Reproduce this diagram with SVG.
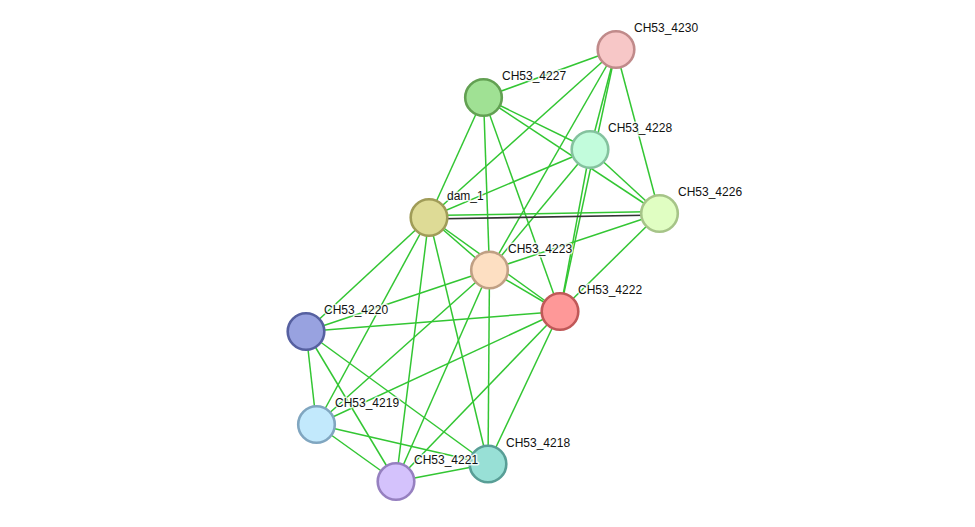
<svg xmlns="http://www.w3.org/2000/svg" width="975" height="527" viewBox="0 0 975 527">
<style>
.e{stroke:#33c633;stroke-width:1.5;fill:none}
.k{stroke:#333;stroke-width:1.6;fill:none}
.n{stroke-width:2.6}
.t{font-family:"Liberation Sans",Arial,sans-serif;font-size:12px;fill:#111;stroke:#fff;stroke-width:3;stroke-opacity:0.8;paint-order:stroke;stroke-linejoin:round}
</style>
<rect width="975" height="527" fill="#fff"/>
<g id="edges">
<line class="e" x1="616" y1="49.5" x2="483.5" y2="97.5"/>
<line class="e" x1="616" y1="49.5" x2="429" y2="217.5"/>
<line class="e" x1="616" y1="49.5" x2="489.5" y2="270"/>
<line class="e" x1="616" y1="49.5" x2="590" y2="149.5"/>
<line class="e" x1="616" y1="49.5" x2="560" y2="311.5"/>
<line class="e" x1="616" y1="49.5" x2="659.5" y2="213.5"/>
<line class="e" x1="483.5" y1="97.5" x2="429" y2="217.5"/>
<line class="e" x1="483.5" y1="97.5" x2="489.5" y2="270"/>
<line class="e" x1="483.5" y1="97.5" x2="560" y2="311.5"/>
<line class="e" x1="483.5" y1="97.5" x2="590" y2="149.5"/>
<line class="e" x1="483.5" y1="97.5" x2="659.5" y2="213.5"/>
<line class="e" x1="590" y1="149.5" x2="429" y2="217.5"/>
<line class="e" x1="590" y1="149.5" x2="489.5" y2="270"/>
<line class="e" x1="590" y1="149.5" x2="560" y2="311.5"/>
<line class="e" x1="590" y1="149.5" x2="659.5" y2="213.5"/>
<line class="e" x1="429" y1="215.6" x2="659.5" y2="211.6"/>
<line class="k" x1="429" y1="219" x2="659.5" y2="215"/>
<line class="e" x1="429" y1="217.5" x2="489.5" y2="270"/>
<line class="e" x1="429" y1="217.5" x2="560" y2="311.5"/>
<line class="e" x1="429" y1="217.5" x2="306" y2="331.5"/>
<line class="e" x1="429" y1="217.5" x2="316.5" y2="424.5"/>
<line class="e" x1="429" y1="217.5" x2="396" y2="481.5"/>
<line class="e" x1="429" y1="217.5" x2="488" y2="464"/>
<line class="e" x1="489.5" y1="270" x2="659.5" y2="213.5"/>
<line class="e" x1="489.5" y1="270" x2="560" y2="311.5"/>
<line class="e" x1="489.5" y1="270" x2="306" y2="331.5"/>
<line class="e" x1="489.5" y1="270" x2="316.5" y2="424.5"/>
<line class="e" x1="489.5" y1="270" x2="396" y2="481.5"/>
<line class="e" x1="489.5" y1="270" x2="488" y2="464"/>
<line class="e" x1="659.5" y1="213.5" x2="560" y2="311.5"/>
<line class="e" x1="560" y1="311.5" x2="306" y2="331.5"/>
<line class="e" x1="560" y1="311.5" x2="316.5" y2="424.5"/>
<line class="e" x1="560" y1="311.5" x2="396" y2="481.5"/>
<line class="e" x1="560" y1="311.5" x2="488" y2="464"/>
<line class="e" x1="306" y1="331.5" x2="316.5" y2="424.5"/>
<line class="e" x1="306" y1="331.5" x2="396" y2="481.5"/>
<line class="e" x1="306" y1="331.5" x2="488" y2="464"/>
<line class="e" x1="316.5" y1="424.5" x2="396" y2="481.5"/>
<line class="e" x1="316.5" y1="424.5" x2="488" y2="464"/>
<line class="e" x1="396" y1="481.5" x2="488" y2="464"/>
</g>
<g id="CH53_4230"><circle class="n" cx="616" cy="49.5" r="18.3" fill="#f7c7c7" stroke="#c08a8a"/><text class="t" x="634" y="32">CH53_4230</text></g>
<g id="CH53_4227"><circle class="n" cx="483.5" cy="97.5" r="18.3" fill="#a0e194" stroke="#62a052"/><text class="t" x="502" y="80">CH53_4227</text></g>
<g id="CH53_4228"><circle class="n" cx="590" cy="149.5" r="18.3" fill="#c2fcdc" stroke="#84c29e"/><text class="t" x="608" y="132">CH53_4228</text></g>
<g id="CH53_4226"><circle class="n" cx="659.5" cy="213.5" r="18.3" fill="#e0fec2" stroke="#a6c488"/><text class="t" x="678" y="196">CH53_4226</text></g>
<g id="dam_1"><circle class="n" cx="429" cy="217.5" r="18.3" fill="#dedb96" stroke="#a09c58"/><text class="t" x="447" y="200">dam_1</text></g>
<g id="CH53_4223"><circle class="n" cx="489.5" cy="270" r="18.3" fill="#fddfc2" stroke="#c0a084"/><text class="t" x="508" y="253">CH53_4223</text></g>
<g id="CH53_4222"><circle class="n" cx="560" cy="311.5" r="18.3" fill="#fe9898" stroke="#c05858"/><text class="t" x="578" y="294">CH53_4222</text></g>
<g id="CH53_4220"><circle class="n" cx="306" cy="331.5" r="18.3" fill="#98a2e0" stroke="#5660a0"/><text class="t" x="324" y="314">CH53_4220</text></g>
<g id="CH53_4219"><circle class="n" cx="316.5" cy="424.5" r="18.3" fill="#c2e9fc" stroke="#80a6c0"/><text class="t" x="335" y="407">CH53_4219</text></g>
<g id="CH53_4218"><circle class="n" cx="488" cy="464" r="18.3" fill="#98e0d6" stroke="#589e96"/><text class="t" x="506" y="447">CH53_4218</text></g>
<g id="CH53_4221"><circle class="n" cx="396" cy="481.5" r="18.3" fill="#d4c2fc" stroke="#9680c0"/><text class="t" x="414" y="464">CH53_4221</text></g>
</svg>
